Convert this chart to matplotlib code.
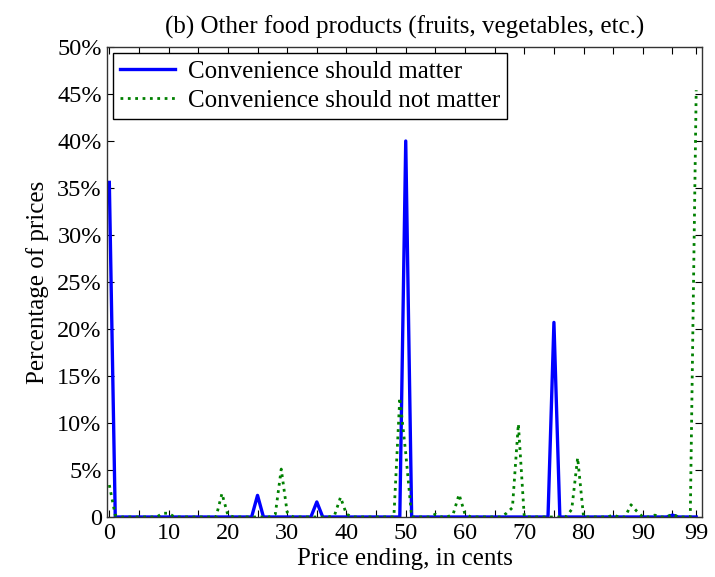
import numpy as np
import matplotlib
matplotlib.use("Agg")
import matplotlib.pyplot as plt
from matplotlib.ticker import FuncFormatter

plt.rcParams['font.family'] = ['Liberation Serif', 'DejaVu Serif']

cents = np.arange(100)

# percentages of prices ending in each cent value
should_matter = np.zeros(100)
should_matter[0] = 35.6
should_matter[25] = 2.3
should_matter[35] = 1.6
should_matter[50] = 40.0
should_matter[75] = 20.7
should_matter[95] = 0.2

should_not_matter = np.zeros(100)
should_not_matter[0] = 3.4
should_not_matter[1] = 0.2
should_not_matter[9] = 0.4
should_not_matter[10] = 0.4
should_not_matter[19] = 2.5
should_not_matter[20] = 0.2
should_not_matter[28] = 0.3
should_not_matter[29] = 5.1
should_not_matter[30] = 0.5
should_not_matter[38] = 0.2
should_not_matter[39] = 2.1
should_not_matter[40] = 0.3
should_not_matter[49] = 12.7
should_not_matter[50] = 6.8
should_not_matter[55] = 0.3
should_not_matter[58] = 0.3
should_not_matter[59] = 2.4
should_not_matter[60] = 0.3
should_not_matter[67] = 0.4
should_not_matter[68] = 1.0
should_not_matter[69] = 9.9
should_not_matter[78] = 0.8
should_not_matter[79] = 6.3
should_not_matter[85] = 0.2
should_not_matter[88] = 1.3
should_not_matter[89] = 0.6
should_not_matter[92] = 0.2
should_not_matter[95] = 0.3
should_not_matter[99] = 45.4

xtick_pos = [0, 10, 20, 30, 40, 50, 60, 70, 80, 90, 99]
ytick_pos = [0, 5, 10, 15, 20, 25, 30, 35, 40, 45, 50]

fig = plt.figure(figsize=(7.15, 5.77), dpi=100)
ax = fig.add_axes([0.150, 0.104, 0.832, 0.8145])

ax.plot(cents, should_matter, color='#0000ff', lw=2.4, label='Convenience should matter')
ax.plot(cents, should_not_matter, color='#008000', lw=2.0, ls=':', label='Convenience should not matter')

ax.set_xlim(-0.35, 100)
ax.set_ylim(0, 50)
ax.set_xticks(xtick_pos)
ax.set_xticks(list(range(5, 100, 10)), minor=True)
ax.set_yticks(ytick_pos)
ax.yaxis.set_major_formatter(FuncFormatter(lambda v, p: '0' if v == 0 else f'{v:.0f}%'))
ax.tick_params(which='both', direction='in', top=True, right=True, length=5, width=0.8,
               labelsize=17.5)
ax.tick_params(axis='x', pad=4)
ax.tick_params(axis='y', pad=4)
for s in ax.spines.values():
    s.set_linewidth(1.0)
    s.set_color('#333333')

ax.set_title('(b) Other food products (fruits, vegetables, etc.)', fontsize=18, pad=10)
ax.set_xlabel('Price ending, in cents', fontsize=18, labelpad=3)
ax.set_ylabel('Percentage of prices', fontsize=18, labelpad=6)

leg = ax.legend(loc='upper left', fontsize=18, fancybox=False, framealpha=1,
                edgecolor='black', borderpad=0.3, handlelength=2.2,
                labelspacing=0.25, handletextpad=0.5, borderaxespad=0,
                bbox_to_anchor=(0.009, 0.987))
leg.get_frame().set_linewidth(1.0)

fig.savefig('out.png', dpi=100)
